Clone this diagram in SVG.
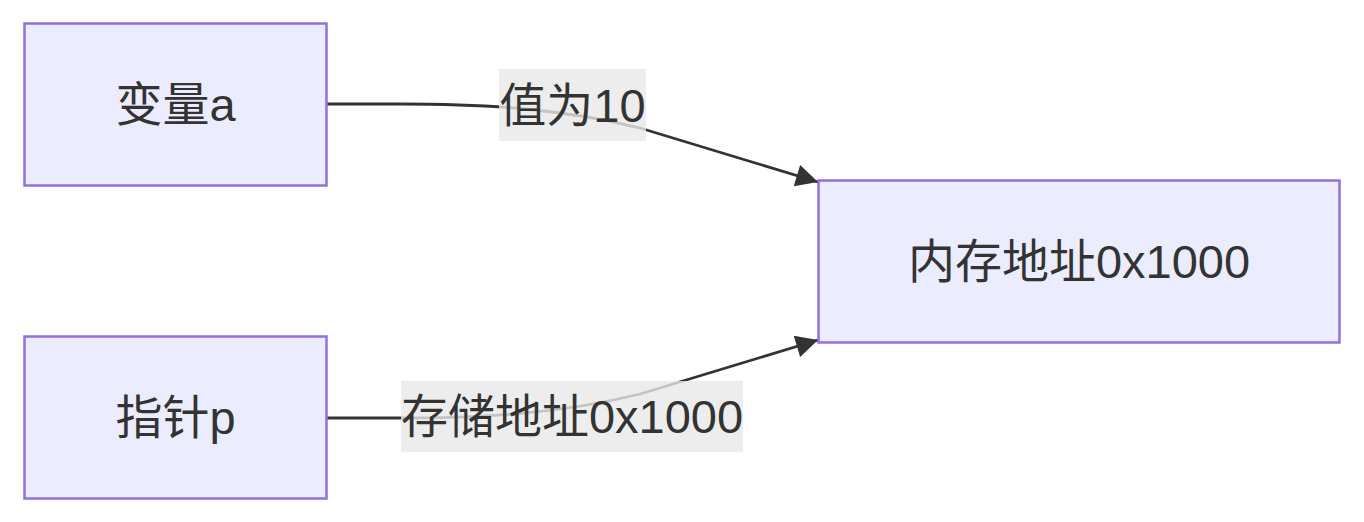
<svg xmlns="http://www.w3.org/2000/svg" width="1364" height="522" viewBox="0 0 1364 522">
<defs>
<style>
.node rect{fill:#ECECFF;stroke:#9370DB;stroke-width:2.5}
.node text,.label text{font-family:"Liberation Sans","Noto Sans CJK SC",sans-serif;font-size:47px;fill:#333;text-anchor:middle;dominant-baseline:central}
.edge{fill:none;stroke:#333;stroke-width:2.8}
.label rect{fill:#e8e8e8;fill-opacity:0.8}
</style>
<marker id="arrow" viewBox="0 0 10 10" refX="10" refY="5" markerUnits="userSpaceOnUse" markerWidth="26" markerHeight="22" orient="auto">
<path d="M0,0 L10,5 L0,10 z" fill="#333"/>
</marker>
</defs>
<rect width="1364" height="522" fill="#fff"/>
<g id="connectors">
<path class="edge" d="M326,104 L400,104 C480,104 560,108 640,128 L818,182" marker-end="url(#arrow)"/>
<path class="edge" d="M326,418 L400,418 C480,418 560,414 640,394 L818,340" marker-end="url(#arrow)"/>
</g>
<g id="label-a" class="label">
<rect x="499" y="69" width="147" height="72"/>
<text x="572.5" y="105">值为10</text>
</g>
<g id="label-p" class="label">
<rect x="401" y="381" width="342" height="71"/>
<text x="572" y="416.5">存储地址0x1000</text>
</g>
<g id="node-a" class="node">
<rect x="24.5" y="23.5" width="302" height="162"/>
<text x="175.5" y="104.5">变量a</text>
</g>
<g id="node-p" class="node">
<rect x="24.5" y="336.5" width="302" height="162"/>
<text x="175.5" y="417.5">指针p</text>
</g>
<g id="node-m" class="node">
<rect x="818.5" y="180.5" width="521" height="162"/>
<text x="1079" y="261.5">内存地址0x1000</text>
</g>
</svg>
